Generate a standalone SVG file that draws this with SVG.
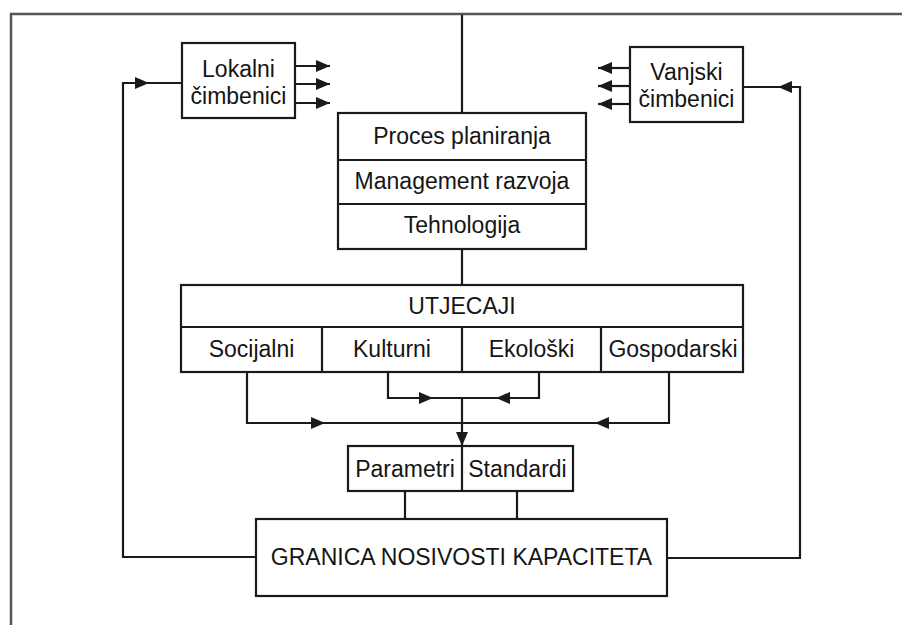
<svg xmlns="http://www.w3.org/2000/svg" width="902" height="625" viewBox="0 0 902 625">
<style>
.box{fill:#fff;stroke:#1a1a1a;stroke-width:2.2}
.div{stroke:#1a1a1a;stroke-width:2.2;fill:none}
.con{stroke:#1a1a1a;stroke-width:2.2;fill:none}
.frame{stroke:#555;stroke-width:2.5;fill:none}
text{font-family:"Liberation Sans",Arial,sans-serif;font-size:23px;fill:#151515;text-anchor:middle}
</style>
<defs>
<marker id="ah" viewBox="0 0 14 12" refX="14" refY="6" markerWidth="14" markerHeight="12" orient="auto" markerUnits="userSpaceOnUse">
<path d="M0,0 L14,6 L0,12 z" fill="#1a1a1a"/>
</marker>
</defs>
<rect width="902" height="625" fill="#fff"/>
<path class="frame" d="M11,625 V14 H902"/>
<g id="connectors">
<path class="con" d="M462,15 V113"/>
<path class="con" d="M462,249 V285"/>
<path class="con" d="M295,66 H330" marker-end="url(#ah)"/>
<path class="con" d="M295,84 H330" marker-end="url(#ah)"/>
<path class="con" d="M295,103 H330" marker-end="url(#ah)"/>
<path class="con" d="M630,68 H598" marker-end="url(#ah)"/>
<path class="con" d="M630,86 H598" marker-end="url(#ah)"/>
<path class="con" d="M630,104 H598" marker-end="url(#ah)"/>
<path class="con" d="M256,557 H123 V83 H149" marker-end="url(#ah)"/>
<path class="con" d="M146,83 H182"/>
<path class="con" d="M667,558 H800 V87 H778" marker-end="url(#ah)"/>
<path class="con" d="M780,87 H743"/>
<path class="con" d="M247,372 V423 H325" marker-end="url(#ah)"/>
<path class="con" d="M669,372 V423 H595" marker-end="url(#ah)"/>
<path class="con" d="M322,423 H598"/>
<path class="con" d="M388,372 V398 H433" marker-end="url(#ah)"/>
<path class="con" d="M539,372 V398 H496" marker-end="url(#ah)"/>
<path class="con" d="M430,398 H499"/>
<path class="con" d="M462,398 V446" marker-end="url(#ah)"/>
<path class="con" d="M405,491 V519"/>
<path class="con" d="M517,491 V519"/>
</g>
<g id="lokalni">
<rect class="box" x="182" y="43" width="113" height="75"/>
<text x="238.5" y="77">Lokalni</text>
<text x="238.5" y="104">čimbenici</text>
</g>
<g id="vanjski">
<rect class="box" x="630" y="47" width="113" height="75"/>
<text x="686.5" y="80">Vanjski</text>
<text x="686.5" y="107">čimbenici</text>
</g>
<g id="planiranje">
<rect class="box" x="338" y="113" width="248" height="136"/>
<path class="div" d="M338,160 H586 M338,204 H586"/>
<text x="462" y="144">Proces planiranja</text>
<text x="462" y="189">Management razvoja</text>
<text x="462" y="233">Tehnologija</text>
</g>
<g id="utjecaji">
<rect class="box" x="181" y="285" width="562" height="87"/>
<path class="div" d="M181,327 H743 M322,327 V372 M462,327 V372 M601,327 V372"/>
<text x="462" y="314">UTJECAJI</text>
<text x="251.5" y="357">Socijalni</text>
<text x="392" y="357">Kulturni</text>
<text x="531.5" y="357">Ekološki</text>
<text x="673" y="357">Gospodarski</text>
</g>
<g id="parametri">
<rect class="box" x="348" y="446" width="225" height="45"/>
<path class="div" d="M462,446 V491"/>
<text x="405" y="477">Parametri</text>
<text x="517.5" y="477">Standardi</text>
</g>
<g id="granica">
<rect class="box" x="256" y="519" width="411" height="77"/>
<text x="461.5" y="565">GRANICA NOSIVOSTI KAPACITETA</text>
</g>
</svg>
